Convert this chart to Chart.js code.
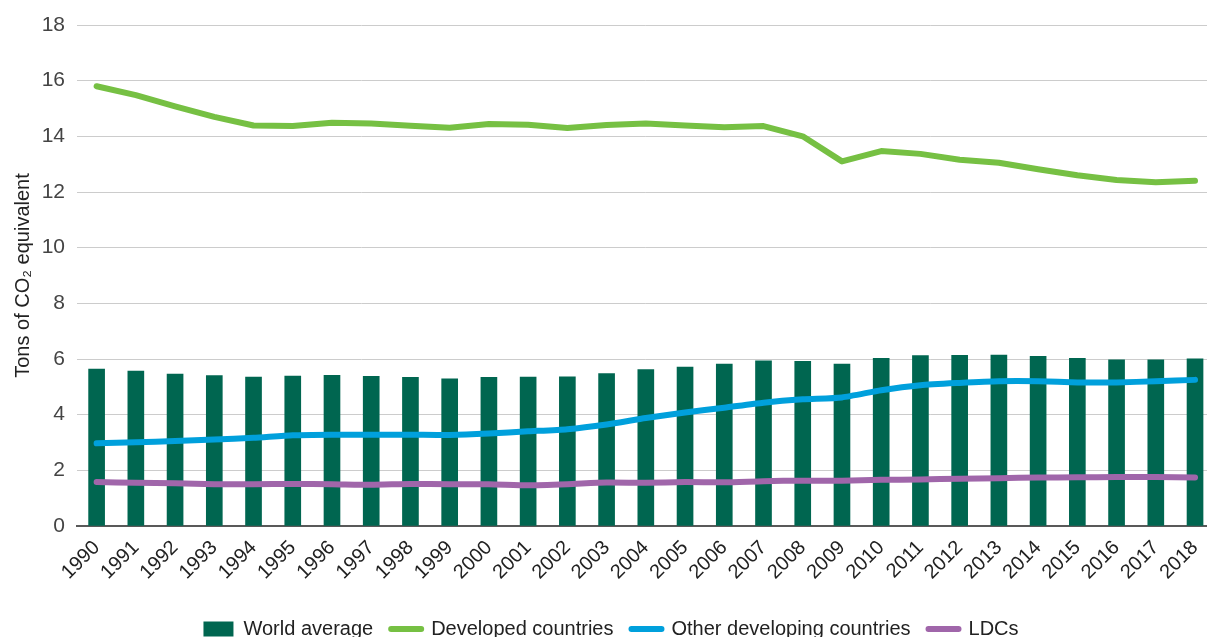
<!DOCTYPE html>
<html>
<head>
<meta charset="utf-8">
<script src="https://cdn.jsdelivr.net/npm/chart.js@4.4.1/dist/chart.umd.min.js"></script>
<style>
  html, body { margin: 0; padding: 0; background: #fff; overflow: hidden; width: 1207px; height: 637px; }
  #wrap { position: absolute; left: 0; top: 0; width: 1222px; height: 649px; }
</style>
</head>
<body>
<div id="wrap"><canvas id="c" width="1222" height="649"></canvas></div>
<script>
const years = ["1990","1991","1992","1993","1994","1995","1996","1997","1998","1999","2000","2001","2002","2003","2004","2005","2006","2007","2008","2009","2010","2011","2012","2013","2014","2015","2016","2017","2018"];
const worldAverage = [5.64,5.57,5.46,5.40,5.35,5.39,5.41,5.38,5.34,5.29,5.34,5.35,5.36,5.48,5.62,5.71,5.82,5.93,5.92,5.82,6.02,6.12,6.13,6.14,6.10,6.02,5.97,5.97,6.01];
const developed = [15.80,15.48,15.08,14.70,14.39,14.37,14.49,14.46,14.38,14.31,14.44,14.42,14.30,14.41,14.46,14.39,14.33,14.37,14.00,13.10,13.47,13.37,13.16,13.05,12.82,12.60,12.43,12.35,12.40];
const otherDeveloping = [2.97,3.01,3.05,3.11,3.17,3.26,3.28,3.28,3.28,3.27,3.32,3.40,3.48,3.65,3.88,4.08,4.25,4.43,4.55,4.62,4.88,5.06,5.14,5.20,5.20,5.16,5.16,5.20,5.25];
const ldcs = [1.58,1.55,1.54,1.50,1.50,1.51,1.50,1.48,1.51,1.50,1.50,1.46,1.50,1.56,1.55,1.58,1.57,1.61,1.63,1.63,1.66,1.67,1.70,1.72,1.74,1.75,1.76,1.76,1.74];
const yTicks = [0,2,4,6,8,10,12,14,16,18];

const FONT = "'Liberation Sans', Arial, sans-serif";

new Chart(document.getElementById('c'), {
  data: {
    labels: years,
    datasets: [
      { type: 'bar', label: 'World average', data: worldAverage, backgroundColor: '#006650', borderWidth: 0, barThickness: 16, order: 1 },
      { type: 'line', label: 'Developed countries', data: developed, borderColor: '#76c043', backgroundColor: '#76c043', borderWidth: 6, pointRadius: 0, borderCapStyle: 'round', borderJoinStyle: 'round', tension: 0, order: 0 },
      { type: 'line', label: 'Other developing countries', data: otherDeveloping, borderColor: '#00a0dc', backgroundColor: '#00a0dc', borderWidth: 6, pointRadius: 0, borderCapStyle: 'round', borderJoinStyle: 'round', tension: 0.2, order: 0 },
      { type: 'line', label: 'LDCs', data: ldcs, borderColor: '#a066aa', backgroundColor: '#a066aa', borderWidth: 6, pointRadius: 0, borderCapStyle: 'round', borderJoinStyle: 'round', tension: 0.2, order: 0 }
    ]
  },
  options: {
    responsive: false,
    animation: false,
    layout: { padding: { top: 25, left: 0, right: 0, bottom: 0 } },
    plugins: {
      tooltip: { enabled: false },
      legend: {
        position: 'bottom',
        labels: {
          usePointStyle: true,
          pointStyleWidth: 30,
          boxHeight: 15,
          padding: 18,
          color: '#222',
          font: { family: FONT, size: 20 },
          generateLabels(chart) {
            return chart.data.datasets.map((ds, i) => ({
              text: ds.label,
              fillStyle: ds.backgroundColor,
              strokeStyle: ds.type === 'bar' ? ds.backgroundColor : ds.borderColor,
              lineWidth: ds.type === 'bar' ? 0 : 6,
              lineCap: 'round',
              pointStyle: ds.type === 'bar' ? 'rect' : 'line',
              datasetIndex: i,
              hidden: !chart.isDatasetVisible(i),
              fontColor: '#222'
            }));
          }
        }
      }
    },
    scales: {
      x: {
        offset: true,
        grid: { display: false, drawTicks: false },
        border: { display: true, color: '#595959', width: 2 },
        ticks: { color: '#222', font: { family: FONT, size: 20 }, minRotation: 45, maxRotation: 45, padding: 10, autoSkip: false },
        afterFit(scale) { scale.height = 75; }
      },
      y: {
        min: 0, max: 18,
        afterBuildTicks(scale) { scale.ticks = yTicks.map(v => ({ value: v })); },
        grid: { color: '#cccccc', lineWidth: 1, drawTicks: false },
        border: { display: false },
        ticks: { color: '#444', font: { family: FONT, size: 21 }, padding: 12 },
        title: { display: true, text: 'Tons of CO\u2082 equivalent', color: '#222', font: { family: FONT, size: 20 }, padding: { top: 11, bottom: 0 } },
        afterFit(scale) { scale.width = 77; }
      }
    }
  }
});
</script>
</body>
</html>
